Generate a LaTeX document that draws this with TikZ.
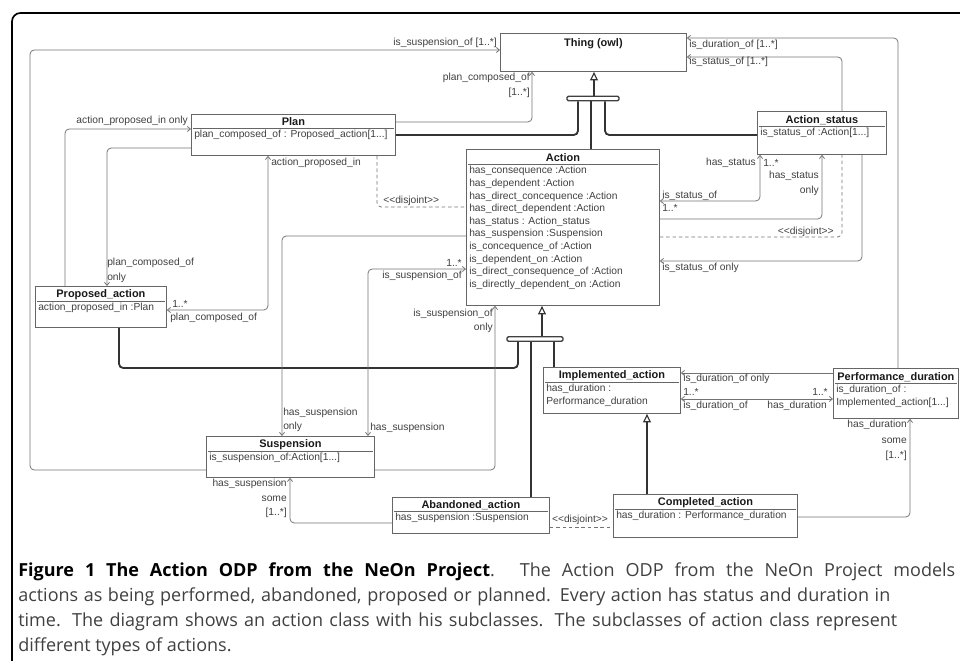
\documentclass[tikz,border=0pt]{standalone}
\usepackage{fontspec}
\setmainfont{Liberation Sans}
\newfontfamily\capfont{Open Sans}
\usetikzlibrary{arrows.meta,positioning}
\newlength{\pxl}
\setlength{\pxl}{0.025cm}

\begin{document}
\begin{tikzpicture}[x=0.025cm, y=-0.025cm,
  cls/.style={draw=black!60, line width=0.6pt, inner sep=0pt, anchor=north west},
  ttl/.style={font=\fontsize{7.8}{9}\selectfont\bfseries, text=black!90, inner sep=0pt},
  attr/.style={font=\fontsize{7.3}{9}\selectfont, text=black!75, align=left, inner sep=0pt, anchor=north west},
  lbl/.style={font=\fontsize{7.3}{9}\selectfont, text=black!75, inner sep=0pt},
  sep/.style={draw=black!60, line width=0.5pt},
  assoc/.style={draw=black!55, line width=0.55pt, rounded corners=3pt, >={Straight Barb[length=2.2pt,width=3.6pt]}},
  disj/.style={assoc, dash pattern=on 2.5pt off 2pt},
  isa/.style={draw=black!80, line width=1.3pt, rounded corners=3pt},
  gen/.style={isa, -{Triangle[open, length=6pt, width=5.5pt, line width=0.8pt]}},
  bar/.style={draw=black!75, line width=1pt, rounded corners=1pt, inner sep=0pt, minimum height=4.5\pxl}]
  \useasboundingbox (0,0) rectangle (960,661);
  \draw[line width=1.2pt, rounded corners=6pt] (12,680) -- (12,13) -- (980,13);

  % class boxes
  \node[cls, minimum width=186\pxl, minimum height=38\pxl] (thing) at (500,33) {};
  \node[ttl] (thing-t) at ([yshift=-11\pxl]thing.north) {Thing (owl)};

  \node[cls, minimum width=204\pxl, minimum height=41\pxl] (plan) at (191,114) {};
  \node[ttl] (plan-t) at ([yshift=-8\pxl]plan.north) {Plan};
  \draw[sep] ([xshift=2\pxl,yshift=-14\pxl]plan.north west) -- ([xshift=-2\pxl,yshift=-14\pxl]plan.north east);
  \node[attr] (plan-a) at ([xshift=3\pxl,yshift=-16\pxl]plan.north west) {plan\_composed\_of : Proposed\_action[1...]};

  \node[cls, minimum width=131\pxl, minimum height=41\pxl] (propact) at (35,286) {};
  \node[ttl] (propact-t) at ([yshift=-9\pxl]propact.north) {Proposed\_action};
  \draw[sep] ([xshift=2\pxl,yshift=-15\pxl]propact.north west) -- ([xshift=-2\pxl,yshift=-15\pxl]propact.north east);
  \node[attr] (propact-a) at ([xshift=3\pxl,yshift=-17\pxl]propact.north west) {action\_proposed\_in :Plan};

  \node[cls, minimum width=193\pxl, minimum height=156\pxl] (action) at (466,149) {};
  \node[ttl] (action-t) at ([yshift=-9\pxl]action.north) {Action};
  \draw[sep] ([xshift=2\pxl,yshift=-15\pxl]action.north west) -- ([xshift=-2\pxl,yshift=-15\pxl]action.north east);
  \node[attr] (action-a) at ([xshift=3\pxl,yshift=-17\pxl]action.north west) {has\_consequence :Action\\
    has\_dependent :Action\\ has\_direct\_concequence :Action\\ has\_direct\_dependent :Action\\
    has\_status : Action\_status\\ has\_suspension :Suspension\\ is\_concequence\_of :Action\\
    is\_dependent\_on :Action\\ is\_direct\_consequence\_of :Action\\ is\_directly\_dependent\_on :Action};

  \node[cls, minimum width=129\pxl, minimum height=43\pxl] (status) at (757,111) {};
  \node[ttl] (status-t) at ([yshift=-9\pxl]status.north) {Action\_status};
  \draw[sep] ([xshift=2\pxl,yshift=-15\pxl]status.north west) -- ([xshift=-2\pxl,yshift=-15\pxl]status.north east);
  \node[attr] (status-a) at ([xshift=3\pxl,yshift=-17\pxl]status.north west) {is\_status\_of :Action[1...]};

  \node[cls, minimum width=137\pxl, minimum height=46\pxl] (impl) at (543,367) {};
  \node[ttl] (impl-t) at ([yshift=-9\pxl]impl.north) {Implemented\_action};
  \draw[sep] ([xshift=2\pxl,yshift=-15\pxl]impl.north west) -- ([xshift=-2\pxl,yshift=-15\pxl]impl.north east);
  \node[attr] (impl-a) at ([xshift=3\pxl,yshift=-17\pxl]impl.north west) {has\_duration :\\ Performance\_duration};

  \node[cls, minimum width=125\pxl, minimum height=50\pxl] (perf) at (833,368) {};
  \node[ttl] (perf-t) at ([yshift=-9\pxl]perf.north) {Performance\_duration};
  \draw[sep] ([xshift=2\pxl,yshift=-15\pxl]perf.north west) -- ([xshift=-2\pxl,yshift=-15\pxl]perf.north east);
  \node[attr] (perf-a) at ([xshift=3\pxl,yshift=-17\pxl]perf.north west) {is\_duration\_of :\\ Implemented\_action[1...]};

  \node[cls, minimum width=168\pxl, minimum height=41\pxl] (susp) at (206,436) {};
  \node[ttl] (susp-t) at ([yshift=-9\pxl]susp.north) {Suspension};
  \draw[sep] ([xshift=2\pxl,yshift=-15\pxl]susp.north west) -- ([xshift=-2\pxl,yshift=-15\pxl]susp.north east);
  \node[attr] (susp-a) at ([xshift=3\pxl,yshift=-17\pxl]susp.north west) {is\_suspension\_of:Action[1...]};

  \node[cls, minimum width=157\pxl, minimum height=36\pxl] (aband) at (392,497) {};
  \node[ttl] (aband-t) at ([yshift=-8\pxl]aband.north) {Abandoned\_action};
  \draw[sep] ([xshift=2\pxl,yshift=-14\pxl]aband.north west) -- ([xshift=-2\pxl,yshift=-14\pxl]aband.north east);
  \node[attr] (aband-a) at ([xshift=3\pxl,yshift=-16\pxl]aband.north west) {has\_suspension :Suspension};

  \node[cls, minimum width=184\pxl, minimum height=43\pxl] (compl) at (613,494) {};
  \node[ttl] (compl-t) at ([yshift=-9\pxl]compl.north) {Completed\_action};
  \draw[sep] ([xshift=2\pxl,yshift=-15\pxl]compl.north west) -- ([xshift=-2\pxl,yshift=-15\pxl]compl.north east);
  \node[attr] (compl-a) at ([xshift=3\pxl,yshift=-17\pxl]compl.north west) {has\_duration : Performance\_duration};

  % generalisation bars
  \node[bar, minimum width=52\pxl] (bar1) at (593,98.5) {};
  \node[bar, minimum width=56\pxl] (bar2) at (535,339) {};
  \draw[gen] (594,0 |- bar1.north) -- (594,0 |- thing.south);
  \draw[isa] (578,0 |- bar1.south) |- (plan.east |- 0,135);
  \draw[isa] (591,0 |- bar1.south) -- (591,0 |- action.north);
  \draw[isa] (605,0 |- bar1.south) |- (status.west |- 0,135);
  \draw[gen] (542,0 |- bar2.north) -- (542,0 |- action.south);
  \draw[isa] (518,0 |- bar2.south) |- (119,368) -- (119,0 |- propact.south);
  \draw[isa] (531,0 |- bar2.south) -- (531,0 |- aband.north);
  \draw[isa] (554,0 |- bar2.south) -- (554,0 |- impl.north);
  \draw[gen] (647,0 |- compl.north) -- (647,0 |- impl.south);

  % associations
  \draw[assoc, ->] (susp.west |- 0,470) -| (30,50) -- (thing.west |- 0,50);
  \node[lbl, anchor=east] (l1) at (497,43) {is\_suspension\_of [1..*]};
  \draw[assoc, ->] (plan.east |- 0,122) -| (532,0 |- thing.south);
  \node[lbl, anchor=east] (l2) at (530,78) {plan\_composed\_of};
  \node[lbl, anchor=east] (l3) at (530,93) {[1..*]};
  \draw[assoc, ->] (898,0 |- perf.north) |- (thing.east |- 0,38);
  \node[lbl, anchor=west] (l4) at (689,45) {is\_duration\_of [1..*]};
  \draw[assoc, ->] (842,0 |- status.north) |- (thing.east |- 0,57);
  \node[lbl, anchor=west] (l5) at (689,62) {is\_status\_of [1..*]};

  \draw[assoc, ->] (65,0 |- propact.north) |- (plan.west |- 0,129);
  \node[lbl, anchor=east] (l6) at (188,121) {action\_proposed\_in only};
  \draw[assoc, ->] (plan.west |- 0,148) -| (107,0 |- propact.north);
  \node[lbl, anchor=west] (l7) at (107,263) {plan\_composed\_of};
  \node[lbl, anchor=west] (l8) at (107,278) {only};
  \draw[assoc, <->] (propact.east |- 0,310) -| (268,0 |- plan.south);
  \node[lbl, anchor=west] (l9) at (271,163) {action\_proposed\_in};
  \node[lbl, anchor=west] (l10) at (172,304) {1..*};
  \node[lbl, anchor=west] (l11) at (170,318) {plan\_composed\_of};
  \draw[disj] (377,0 |- plan.south) |- (action.west |- 0,207);
  \node[lbl, anchor=west] (l12) at (383,201) {<{}<disjoint>{}>};

  \draw[assoc, <->] (368,0 |- susp.north) |- (action.west |- 0,269);
  \node[lbl, anchor=east] (l13) at (462,263) {1..*};
  \node[lbl, anchor=east] (l14) at (462,276) {is\_suspension\_of};
  \node[lbl, anchor=west] (l15) at (370,428) {has\_suspension};
  \draw[assoc, ->] (action.west |- 0,236) -| (282,0 |- susp.north);
  \node[lbl, anchor=west] (l16) at (283,413) {has\_suspension};
  \node[lbl, anchor=west] (l17) at (283,427) {only};
  \draw[assoc, ->] (susp.east |- 0,470) -| (495,0 |- action.south);
  \node[lbl, anchor=east] (l18) at (493,314) {is\_suspension\_of};
  \node[lbl, anchor=east] (l19) at (493,328) {only};
  \draw[assoc, ->] (aband.west |- 0,523) -| (290,0 |- susp.south);
  \node[lbl, anchor=east] (l20) at (287,484) {has\_suspension};
  \node[lbl, anchor=east] (l21) at (287,499) {some};
  \node[lbl, anchor=east] (l22) at (287,513) {[1..*]};
  \draw[disj] (aband.east |- 0,527) -- (compl.west |- 0,527);
  \node[lbl] (l23) at (580,520) {<{}<disjoint>{}>};

  \draw[assoc, <->] (action.east |- 0,201) -| (760,0 |- status.south);
  \node[lbl, anchor=west] (l24) at (662,196) {is\_status\_of};
  \node[lbl, anchor=west] (l25) at (662,208) {1..*};
  \node[lbl, anchor=east] (l26) at (756,163) {has\_status};
  \node[lbl, anchor=west] (l27) at (763,163) {1..*};
  \draw[assoc, ->] (action.east |- 0,219) -| (822,0 |- status.south);
  \node[lbl, anchor=east] (l28) at (819,176) {has\_status};
  \node[lbl, anchor=east] (l29) at (819,191) {only};
  \draw[disj] (action.east |- 0,237) -| (842,0 |- status.south);
  \node[lbl, anchor=east] (l30) at (834,232) {<{}<disjoint>{}>};
  \draw[assoc, ->] (862,0 |- status.south) |- (action.east |- 0,261);
  \node[lbl, anchor=west] (l31) at (662,268) {is\_status\_of only};

  \draw[assoc, ->] (perf.west |- 0,373) -- (impl.east |- 0,373);
  \node[lbl, anchor=west] (l32) at (683,379) {is\_duration\_of only};
  \draw[assoc, <->] (impl.east |- 0,399) -- (perf.west |- 0,399);
  \node[lbl, anchor=west] (l33) at (683,392) {1..*};
  \node[lbl, anchor=west] (l34) at (683,406) {is\_duration\_of};
  \node[lbl, anchor=east] (l35) at (828,392) {1..*};
  \node[lbl, anchor=east] (l36) at (827,406) {has\_duration};
  \draw[assoc, ->] (compl.east |- 0,517) -| (910,0 |- perf.south);
  \node[lbl, anchor=east] (l37) at (907,425) {has\_duration};
  \node[lbl, anchor=east] (l38) at (907,441) {some};
  \node[lbl, anchor=east] (l39) at (907,456) {[1..*]};

  % caption
  \node[anchor=north west, inner sep=0pt, align=left, text=black!75,
    font=\capfont\fontsize{12.8}{17.8}\selectfont] (caption) at (18,562)
    {\makebox[937\pxl][s]{{\bfseries\color{black}Figure 1 The Action ODP from the NeOn Project}. The Action ODP from the NeOn Project models}\\
     \makebox[872\pxl][s]{actions as being performed, abandoned, proposed or planned. Every action has status and duration in}\\
     \makebox[879\pxl][s]{time. The diagram shows an action class with his subclasses. The subclasses of action class represent}\\
     different types of actions.};
\end{tikzpicture}
\end{document}
